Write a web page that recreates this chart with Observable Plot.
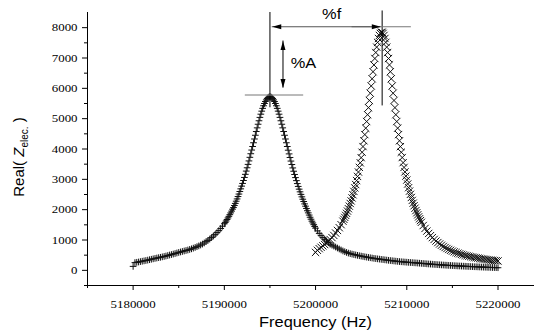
<!DOCTYPE html>
<html><head><meta charset="utf-8">
<script src="https://cdn.jsdelivr.net/npm/d3@7"></script>
<script src="https://cdn.jsdelivr.net/npm/@observablehq/plot@0.6"></script>
<style>body{margin:0;background:#fff;} #chart svg{display:block}</style>
</head><body><div id="chart"></div>
<script>
// Frequency sweep grids (Hz): 200 Hz steps on the tails, 100 Hz steps around each resonance
const freq1 = [...d3.range(5180000, 5190000, 200), ...d3.range(5190000, 5200000, 100), ...d3.range(5200000, 5220001, 200)];
const freq2 = [...d3.range(5200000, 5203000, 200), ...d3.range(5203000, 5211600, 100), ...d3.range(5211600, 5220001, 200)];

// Series 1 ("+" markers): Real(Z_elec.)
const real1 = [
  130,255,265,275,288,300,312,324,337,351,
  365,379,393,406,418,430,444,458,472,488,
  505,521,537,554,572,590,606,622,638,654,
  670,689,709,731,755,780,806,835,866,903,
  945,987,1032,1080,1131,1185,1245,1310,1380,1455,
  1535,1580,1627,1676,1727,1780,1835,1893,1952,2015,
  2069,2136,2206,2279,2354,2433,2514,2598,2686,2776,
  2865,2962,3062,3165,3272,3381,3493,3607,3725,3844,
  3965,4082,4206,4330,4453,4576,4697,4816,4931,5042,
  5148,5248,5340,5425,5500,5565,5620,5663,5695,5714,
  5720,5714,5695,5663,5620,5565,5500,5425,5340,5248,
  5148,5042,4931,4816,4697,4576,4453,4330,4206,4082,
  3960,3839,3720,3602,3488,3376,3267,3160,3057,2957,
  2860,2766,2676,2588,2504,2423,2344,2269,2190,2115,
  2040,1965,1895,1822,1750,1685,1620,1562,1505,1447,
  1390,1300,1218,1145,1080,1020,963,910,862,830,
  800,768,736,704,672,640,614,590,569,551,
  535,521,507,494,482,470,458,446,435,425,
  415,405,395,386,378,370,362,354,346,338,
  330,323,316,309,302,295,289,283,278,273,
  268,263,258,254,249,245,240,235,230,225,
  220,215,210,206,201,196,192,187,183,179,
  175,171,167,163,160,156,153,150,146,143,
  140,137,134,131,128,125,122,119,117,114,
  111,108,105,103,100,98,96,93,91,88,
  86];

// Series 2 ("x" markers)
const real2 = [
  590,660,715,760,805,850,900,955,1015,1080,1150,1230,1315,1405,1505,
  1620,1681,1745,1812,1878,1953,2032,2116,2204,2288,
  2387,2491,2601,2718,2828,2959,3096,3241,3394,3545,
  3715,3893,4080,4271,4475,4687,4906,5132,5364,5600,
  5839,6078,6315,6548,6772,6984,7181,7359,7515,7644,
  7743,7811,7846,7846,7811,7743,7644,7515,7359,7181,
  6984,6772,6548,6315,6078,5839,5600,5364,5132,4906,
  4687,4475,4271,4078,3893,3718,3550,3393,3245,3106,
  2975,2846,2725,2611,2505,2402,2305,2214,2130,2047,
  1970,1898,1830,1763,1700,1640,
  1583,1477,1381,1294,1216,1144,1079,1019,965,915,
  869,827,788,752,719,688,660,633,609,586,
  565,545,526,509,493,477,463,450,437,425,
  414,403,393,382,372,363,354,346,338,330,
  323,316,309];

// Axis ticks
const xTicks = [5180000,5190000,5200000,5210000,5220000];
const xMinorTicks = [5175000,5185000,5195000,5205000,5215000];
const yTicks = [0,1000,2000,3000,4000,5000,6000,7000,8000];
const yMinorTicks = [-500,500,1500,2500,3500,4500,5500,6500,7500];

// Annotations (data units)
const peakVLines = [{f:5195000, lo:5360, hi:8500},{f:5207300, lo:5420, hi:8550}];
const peakHLines = [{v:5780, from:5192300, to:5198700},{v:8030, from:5204000, to:5210500}];
const shiftArrow = [{v:8030, from:5195250, to:5207150}];
const ampArrow = [{f:5196430, from:6010, to:7560}];
const noteF = [{f:5201760, v:8418, text:"%f"}];
const noteA = [{f:5197270, v:6812, text:"%A"}];

const s1 = freq1.map((f,i)=>({f, v: real1[i]}));
const s2 = freq2.map((f,i)=>({f, v: real2[i]}));

const headRight = {draw(c){c.moveTo(0,0);c.lineTo(-9,-2.5);c.lineTo(-9,2.5);c.closePath();}};
const headLeft  = {draw(c){c.moveTo(0,0);c.lineTo(9,-2.5);c.lineTo(9,2.5);c.closePath();}};
const headUp    = {draw(c){c.moveTo(0,0);c.lineTo(-2.5,9);c.lineTo(2.5,9);c.closePath();}};
const headDown  = {draw(c){c.moveTo(0,0);c.lineTo(-2.5,-9);c.lineTo(2.5,-9);c.closePath();}};

const sans = "Liberation Sans, Arial, sans-serif";

const chart = Plot.plot({
  width: 534, height: 336,
  marginLeft: 87, marginRight: 0, marginTop: 12, marginBottom: 51,
  x: {domain: [5175000, 5224000]},
  y: {domain: [-500, 8500]},
  style: {fontFamily: "Liberation Serif, Times New Roman, serif", fontSize: "11px", color: "black", background: "white"},
  marks: [
    Plot.ruleX([5175000], {stroke: "black"}),
    Plot.ruleY([-500], {stroke: "black"}),
    Plot.axisX({ticks: xTicks, tickSize: 5, tickPadding: 10, tickFormat: d => String(d), label: null}),
    Plot.axisX({ticks: xMinorTicks, tickSize: 3, tickFormat: () => "", label: null}),
    Plot.axisY({ticks: yTicks, tickSize: 5, tickPadding: 5, tickFormat: d => String(d), label: null}),
    Plot.axisY({ticks: yMinorTicks, tickSize: 3, tickFormat: () => "", label: null}),
    Plot.dot(s1, {x: "f", y: "v", symbol: "plus", r: 2.3, stroke: "#111", strokeWidth: 1}),
    Plot.dot(s2, {x: "f", y: "v", symbol: "times", r: 3.4, stroke: "#111", strokeWidth: 1}),
    Plot.ruleX(peakVLines, {x: "f", y1: "lo", y2: "hi", stroke: "black"}),
    Plot.ruleY(peakHLines, {y: "v", x1: "from", x2: "to", stroke: "#777"}),
    Plot.ruleY(shiftArrow, {y: "v", x1: "from", x2: "to", stroke: "#555"}),
    Plot.dot(shiftArrow, {x: "from", y: "v", symbol: headLeft, fill: "black", stroke: "none"}),
    Plot.dot(shiftArrow, {x: "to", y: "v", symbol: headRight, fill: "black", stroke: "none"}),
    Plot.ruleX(ampArrow, {x: "f", y1: "from", y2: "to", stroke: "black"}),
    Plot.dot(ampArrow, {x: "f", y: "to", symbol: headUp, fill: "black", stroke: "none"}),
    Plot.dot(ampArrow, {x: "f", y: "from", symbol: headDown, fill: "black", stroke: "none"}),
    Plot.text(noteF, {x: "f", y: "v", text: "text", fontFamily: sans, fontSize: 14, textAnchor: "middle"}),
    Plot.text(noteA, {x: "f", y: "v", text: "text", fontFamily: sans, fontSize: 14, textAnchor: "start"}),
    Plot.text(["Frequency (Hz)"], {frameAnchor: "bottom", dy: 41, dx: 4.5, fontFamily: sans, fontSize: 14})
  ]
});
document.getElementById("chart").appendChild(chart);

// reference text is slightly wider than its height suggests
chart.querySelectorAll("text").forEach(t => {
  const L = t.getComputedTextLength();
  if (L > 0) { t.setAttribute("textLength", (L * 1.17).toFixed(2)); t.setAttribute("lengthAdjust", "spacingAndGlyphs"); }
});

// Y title with italic Z and subscript
const yt = d3.select(chart).append("text")
  .attr("transform", "translate(23.5,157) rotate(-90)")
  .attr("text-anchor", "middle")
  .attr("font-family", sans).attr("font-size", 15).attr("fill", "black");
yt.append("tspan").text("Real( ");
yt.append("tspan").attr("font-style", "italic").text("Z");
yt.append("tspan").attr("font-size", 10).attr("dy", 4).text("elec.");
yt.append("tspan").attr("dy", -4).text(" )");
</script>
</body></html>
